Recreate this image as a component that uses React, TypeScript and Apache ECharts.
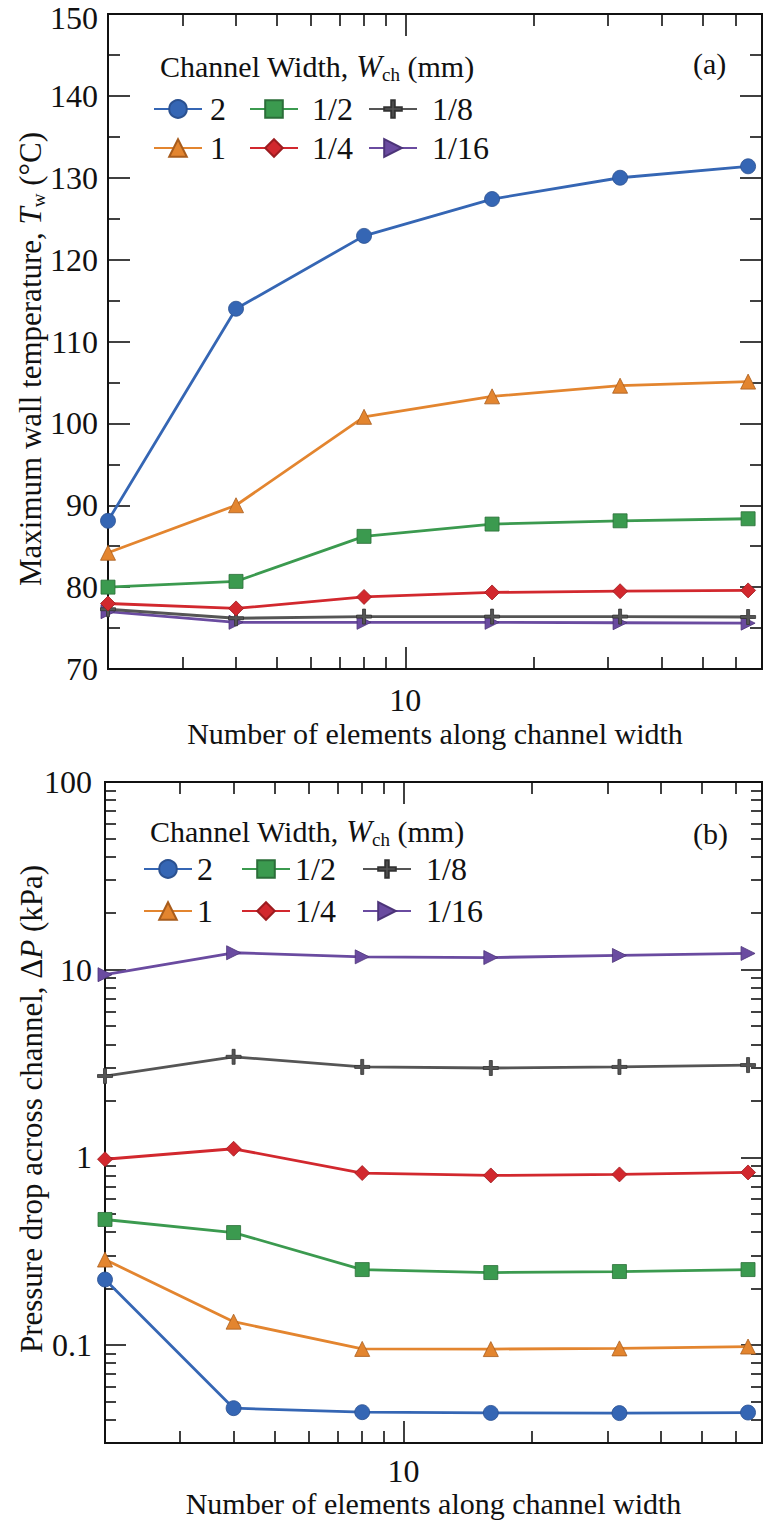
import React, { useEffect, useRef } from 'react';
import * as echarts from 'echarts';

// ---------- data ----------
const xValues = [2, 4, 8, 16, 32, 64];
const seriesNames = ['2', '1', '1/2', '1/4', '1/8', '1/16'];

// (a) Maximum wall temperature (°C)
const tempW2 = [88.1, 114.0, 122.9, 127.4, 130.0, 131.4];
const tempW1 = [84.2, 90.0, 100.8, 103.3, 104.6, 105.1];
const tempWHalf = [80.0, 80.7, 86.2, 87.7, 88.1, 88.35];
const tempWQuarter = [78.0, 77.4, 78.8, 79.35, 79.5, 79.6];
const tempWEighth = [77.3, 76.2, 76.4, 76.4, 76.4, 76.35];
const tempWSixteenth = [77.0, 75.7, 75.7, 75.7, 75.65, 75.6];

// (b) Pressure drop (kPa)
const presW2 = [0.223, 0.046, 0.0438, 0.0434, 0.0433, 0.0436];
const presW1 = [0.285, 0.133, 0.0952, 0.095, 0.0958, 0.098];
const presWHalf = [0.466, 0.397, 0.252, 0.243, 0.246, 0.252];
const presWQuarter = [0.976, 1.11, 0.824, 0.8, 0.81, 0.83];
const presWEighth = [2.71, 3.43, 3.03, 2.99, 3.03, 3.1];
const presWSixteenth = [9.4, 12.3, 11.7, 11.6, 11.9, 12.2];

const tempData = [tempW2, tempW1, tempWHalf, tempWQuarter, tempWEighth, tempWSixteenth];
const presData = [presW2, presW1, presWHalf, presWQuarter, presWEighth, presWSixteenth];

// tick values
const tempMin = 70;
const tempMax = 150;
const tempStep = 10;
const xMajorTicks = [10];
const xMinorTicks = [3, 4, 5, 6, 7, 8, 9, 20, 30, 40, 50, 60];
const pMajorTicks = [0.1, 1, 10, 100];
const pMinorTicks = [
  0.04, 0.05, 0.06, 0.07, 0.08, 0.09,
  0.2, 0.3, 0.4, 0.5, 0.6, 0.7, 0.8, 0.9,
  2, 3, 4, 5, 6, 7, 8, 9,
  20, 30, 40, 50, 60, 70, 80, 90,
];
// legend layout: rows x columns of series names
const legendRows = [
  ['2', '1/2', '1/8'],
  ['1', '1/4', '1/16'],
];

// ---------- styles ----------
const FONT = 'Liberation Serif';
const INK = '#111111';
const colors = ['#3566b4', '#e3852f', '#3b9a4f', '#d2282e', '#555555', '#6a4ba0'];
const borders = ['#2b5190', '#a85c1c', '#2b6e39', '#9c1c20', '#333333', '#4c3478'];
const symbols = [
  'circle',
  'triangle',
  'rect',
  'diamond',
  'path://M4,0H6V4H10V6H6V10H4V6H0V4H4Z',
  'path://M0,0L10,5L0,10Z',
];
const symbolSizes = [15, 15, 14, 15, 15, 14];

const lineW = 2;
const tickW = 1.6;
const TICK_FS = 32;

const richStyles = {
  i: { fontFamily: FONT, fontSize: 31, fontStyle: 'italic', lineHeight: 36, fill: INK, color: INK },
  s: { fontFamily: FONT, fontSize: 19, lineHeight: 19, verticalAlign: 'bottom', fill: INK, color: INK },
};

function logXAxes(gridIndex: number, labelMargin: number, nameGap: number, min: number, max: number) {
  const base = {
    type: 'log',
    logBase: 10,
    gridIndex,
    min,
    max,
    splitLine: { show: false },
    minorTick: { show: false },
    minorSplitLine: { show: false },
    axisLine: { show: true, onZero: false, lineStyle: { color: INK, width: lineW } },
  };
  const label = {
    show: true,
    customValues: xMajorTicks,
    margin: labelMargin,
    fontFamily: FONT,
    fontSize: TICK_FS,
    color: INK,
    formatter: (v: number) => String(+Number(v).toPrecision(3)),
  };
  return [
    {
      ...base,
      position: 'bottom',
      axisTick: { show: true, inside: true, length: 22, customValues: xMajorTicks, lineStyle: { color: INK, width: tickW } },
      axisLabel: label,
      name: 'Number of elements along channel width',
      nameLocation: 'middle',
      nameGap,
      nameTextStyle: { fontFamily: FONT, fontSize: 30, color: INK },
    },
    {
      ...base,
      position: 'bottom',
      axisTick: { show: true, inside: true, length: 12, customValues: xMinorTicks, lineStyle: { color: INK, width: tickW } },
      axisLabel: { show: false },
    },
    {
      ...base,
      position: 'top',
      axisTick: { show: true, inside: true, length: 22, customValues: xMajorTicks, lineStyle: { color: INK, width: tickW } },
      axisLabel: { show: false },
    },
    {
      ...base,
      position: 'top',
      axisTick: { show: true, inside: true, length: 12, customValues: xMinorTicks, lineStyle: { color: INK, width: tickW } },
      axisLabel: { show: false },
    },
  ];
}

function tempYAxes() {
  const base = {
    type: 'value',
    gridIndex: 0,
    min: tempMin,
    max: tempMax,
    interval: tempStep,
    splitLine: { show: false },
    axisLine: { show: true, onZero: false, lineStyle: { color: INK, width: lineW } },
    axisTick: { show: true, inside: true, length: 22, lineStyle: { color: INK, width: tickW } },
    minorTick: { show: true, splitNumber: 2, length: 12, lineStyle: { color: INK, width: tickW } },
  };
  return [
    {
      ...base,
      position: 'left',
      axisLabel: {
        show: true,
        margin: 10,
        fontFamily: FONT,
        fontSize: TICK_FS,
        color: INK,
        // the top label sits at the page edge: nudge it down a little so it stays whole
        formatter: (v: number) => (v >= tempMax ? `{edge|${v}}` : String(v)),
        rich: {
          edge: { fontFamily: FONT, fontSize: TICK_FS, color: INK, padding: [8, 0, 0, 0] },
        },
      },
    },
    { ...base, position: 'right', axisLabel: { show: false } },
  ];
}

function presYAxes() {
  const base = {
    type: 'log',
    logBase: 10,
    gridIndex: 1,
    min: 0.03,
    max: 100,
    splitLine: { show: false },
    minorTick: { show: false },
    minorSplitLine: { show: false },
    axisLine: { show: true, onZero: false, lineStyle: { color: INK, width: lineW } },
  };
  const major = { show: true, inside: true, length: 21, customValues: pMajorTicks, lineStyle: { color: INK, width: tickW } };
  const minor = { show: true, inside: true, length: 11, customValues: pMinorTicks, lineStyle: { color: INK, width: tickW } };
  return [
    {
      ...base,
      position: 'left',
      axisTick: major,
      axisLabel: {
        show: true,
        customValues: pMajorTicks,
        margin: 13,
        fontFamily: FONT,
        fontSize: TICK_FS,
        color: INK,
        formatter: (v: number) => String(+Number(v).toPrecision(3)),
      },
    },
    { ...base, position: 'left', axisTick: minor, axisLabel: { show: false } },
    { ...base, position: 'right', axisTick: major, axisLabel: { show: false } },
    { ...base, position: 'right', axisTick: minor, axisLabel: { show: false } },
  ];
}

function makeSeries(data: number[][], xAxisIndex: number, yAxisIndex: number) {
  return data.map((vals, k) => ({
    name: seriesNames[k],
    type: 'line',
    xAxisIndex,
    yAxisIndex,
    data: xValues.map((x, j) => [x, vals[j]]),
    symbol: symbols[k],
    symbolSize: symbolSizes[k],
    showSymbol: true,
    lineStyle: { color: colors[k], width: 2.8 },
    itemStyle: { color: colors[k], borderColor: borders[k], borderWidth: 0.8, opacity: 1 },
    emphasis: { disabled: true },
    z: 2 + (5 - k),
  }));
}

function legendItem(name: string, left: number, centerY: number, textPad: number) {
  return {
    show: true,
    left,
    top: centerY - 17,
    orient: 'horizontal',
    padding: 0,
    itemWidth: 48,
    itemHeight: 22,
    itemGap: 0,
    selectedMode: false,
    data: [name],
    textStyle: { fontFamily: FONT, fontSize: TICK_FS, color: INK, padding: [0, 0, 0, textPad] },
  };
}

function legendBlock(colLefts: number[], textPads: number[], rowCenters: number[]) {
  const out: any[] = [];
  legendRows.forEach((row, r) => {
    row.forEach((name, c) => {
      out.push(legendItem(name, colLefts[c], rowCenters[r], textPads[c]));
    });
  });
  return out;
}

function textEl(x: number, y: number, text: string, opts: any = {}) {
  return {
    type: 'text',
    x,
    y,
    rotation: opts.rotation || 0,
    style: {
      text,
      fontFamily: FONT,
      fontSize: opts.fontSize || 30,
      fill: INK,
      lineHeight: 36,
      verticalAlign: 'middle',
      textVerticalAlign: 'middle',
      align: opts.align || 'left',
      textAlign: opts.align || 'left',
      rich: richStyles,
    },
  };
}

export default function App() {
  const ref = useRef<HTMLDivElement>(null);
  useEffect(() => {
    if (!ref.current) return;
    const chart = echarts.init(ref.current, undefined, { renderer: 'svg' });
    const option = {
      animation: false,
      backgroundColor: '#ffffff',
      textStyle: { fontFamily: FONT },
      grid: [
        { left: 108, right: 2, top: 14, height: 655 },
        { left: 105, right: 2, top: 782, height: 661 },
      ],
      xAxis: [...logXAxes(0, 15, 49, 2, 69), ...logXAxes(1, 12, 45, 2, 69)],
      yAxis: [...tempYAxes(), ...presYAxes()],
      legend: [
        ...legendBlock([153, 249, 368], [3, 9, 10], [110, 149]),
        ...legendBlock([143, 241, 362], [0, 0, 10], [870, 912]),
      ],
      graphic: [
        textEl(160, 66, 'Channel Width, {i|W}{s|ch} (mm)'),
        textEl(693, 63, '(a)'),
        textEl(150, 831, 'Channel Width, {i|W}{s|ch} (mm)'),
        textEl(693, 833, '(b)'),
        textEl(30, 359, 'Maximum wall temperature, {i|T}{s|w} (°C)', {
          rotation: Math.PI / 2,
          align: 'center',
          fontSize: 31,
        }),
        textEl(31, 1109, 'Pressure drop across channel, Δ{i|P} (kPa)', {
          rotation: Math.PI / 2,
          align: 'center',
          fontSize: 31,
        }),
      ],
      series: [...makeSeries(tempData, 0, 0), ...makeSeries(presData, 4, 2)],
    };
    chart.setOption(option as any);
    return () => chart.dispose();
  }, []);
  return (
    <div
      ref={ref}
      style={{ position: 'fixed', left: 0, top: 0, width: 764, height: 1523, background: '#fff' }}
    />
  );
}
